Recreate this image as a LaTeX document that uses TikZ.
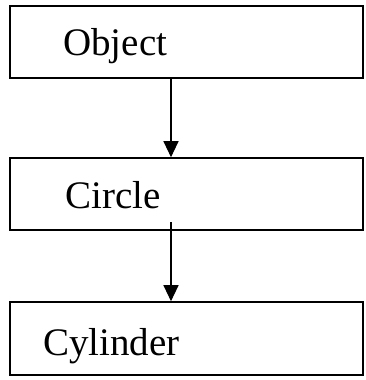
\documentclass[tikz,border=0pt]{standalone}
\usepackage{fontspec}
\setmainfont{Liberation Serif}
\usetikzlibrary{arrows.meta}
\begin{document}
\begin{tikzpicture}[x=1pt,y=-1pt,
  box/.style={draw, line width=1.6pt, rectangle, inner sep=0pt,
              minimum width=353pt, minimum height=72pt},
  boxtext/.style={font=\fontsize{39}{47}\selectfont, anchor=base west, inner sep=0pt},
  link/.style={line width=1.2pt, -{Triangle[length=16pt,width=15pt]}}]
\useasboundingbox (0,0) rectangle (365,380);

% class boxes
\node[box] (obj)  at (186.5,42)  {};
\node[box] (circ) at (186.5,194) {};
\node[box, minimum height=73pt] (cyl) at (186.5,338.5) {};

% class names
\node[boxtext] (tobj)  at (63,55)  {Object};
\node[boxtext] (tcirc) at (65,208) {Circle};
\node[boxtext] (tcyl)  at (43,355) {Cylinder};

% inheritance arrows
\coordinate (ax) at (171,0);
\coordinate (c2) at (171,222);
\draw[link] (obj.south -| ax) -- (circ.north -| ax);
\draw[link] (c2) -- (cyl.north -| ax);
\end{tikzpicture}
\end{document}
